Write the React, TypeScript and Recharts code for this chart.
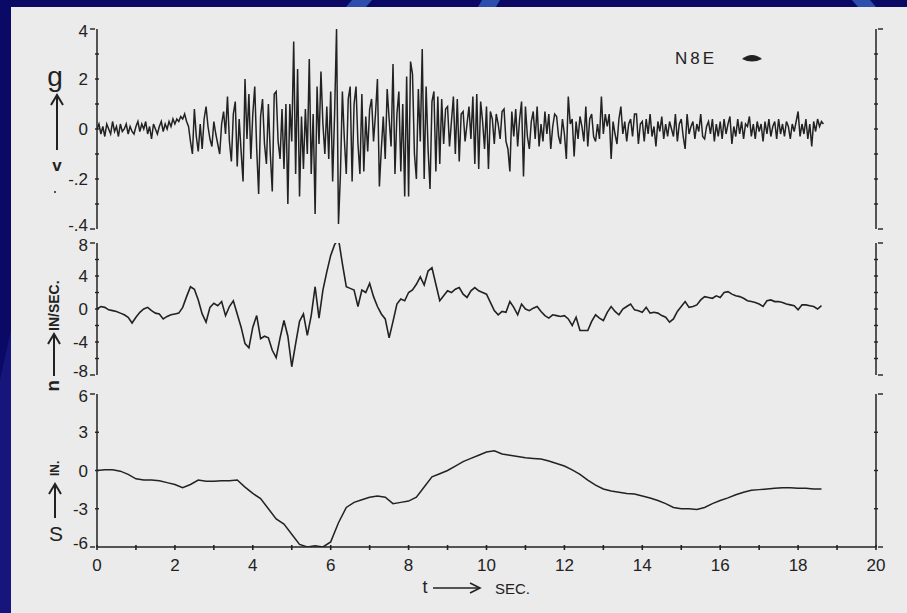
import React from "react";
import { LineChart, Line, XAxis, YAxis } from "recharts";

// ground acceleration (g), one reading every 0.05 s starting at t = 0
const accel0to2 = [
  0.0, 0.02, -0.02, 0.01, -0.03, 0.02, 0.0, -0.02, 0.03, -0.01,
  0.01, -0.03, 0.02, -0.01, 0.0, 0.02, -0.02, 0.01, -0.01, -0.02,
  0.01, 0.03, -0.01, 0.02, 0.0, 0.03, -0.02, 0.01, -0.04, 0.02,
  0.0, -0.02, 0.01, 0.03, -0.01, 0.02, 0.0, 0.03, 0.01, 0.04,
];
const accel2to4 = [
  0.02, 0.04, 0.03, 0.05, 0.04, 0.06, 0.03, 0.01, -0.05, -0.1,
  0.08, -0.03, -0.09, 0.02, -0.08, 0.04, 0.09, 0.01, -0.04, -0.07,
  0.03, -0.02, -0.06, -0.1, 0.02, 0.07, -0.02, 0.13, -0.05, -0.13,
  0.06, 0.11, -0.15, 0.04, -0.09, -0.21, 0.2, -0.04, 0.14, -0.12,
];
const accel4to6 = [
  0.06, 0.17, -0.08, -0.26, 0.05, 0.12, -0.06, -0.14, 0.1, -0.1,
  -0.25, 0.14, 0.15, -0.05, -0.12, 0.08, -0.16, 0.1, -0.3, 0.1,
  -0.05, 0.35, -0.18, 0.24, -0.27, 0.05, -0.16, 0.08, -0.1, 0.28,
  -0.18, 0.06, -0.34, 0.17, -0.06, 0.23, 0.02, -0.1, 0.09, -0.12,
];
const accel6to8 = [
  0.15, -0.21, 0.06, 0.4, -0.38, -0.18, 0.15, -0.04, -0.18, 0.12,
  0.17, -0.21, 0.1, 0.17, -0.06, -0.18, 0.14, -0.17, 0.05, -0.09,
  0.08, 0.12, -0.05, 0.06, 0.2, -0.23, -0.08, 0.05, -0.12, 0.16,
  0.04, -0.07, 0.26, -0.18, 0.06, 0.15, -0.17, 0.1, -0.27, 0.21,
];
const accel8to10 = [
  -0.27, 0.27, 0.22, -0.1, -0.2, 0.16, -0.05, 0.32, -0.2, 0.17,
  -0.08, -0.24, 0.11, 0.15, -0.17, 0.13, -0.14, 0.12, -0.06, 0.08,
  0.09, -0.07, 0.03, 0.13, -0.1, 0.12, -0.13, 0.06, 0.07, -0.05,
  0.02, 0.09, -0.04, 0.13, -0.14, 0.14, -0.16, 0.11, 0.03, -0.08,
];
const accel10to12 = [
  0.09, -0.16, 0.07, 0.04, -0.06, 0.06, 0.02, -0.04, 0.07, 0.08,
  -0.05, -0.08, -0.17, 0.07, -0.03, 0.08, -0.07, 0.04, 0.11, -0.19,
  0.09, -0.03, -0.08, 0.03, 0.07, -0.04, 0.09, -0.07, 0.02, -0.05,
  0.07, -0.02, 0.06, -0.08, 0.01, 0.06, 0.05, -0.03, -0.06, 0.04,
];
const accel12to14 = [
  -0.02, -0.12, 0.13, 0.02, 0.04, -0.11, 0.03, -0.04, 0.05, 0.01,
  -0.05, 0.09, -0.07, 0.04, 0.06, -0.03, -0.05, 0.02, -0.04, 0.13,
  -0.02, 0.06, 0.01, 0.06, -0.12, 0.03, -0.02, -0.06, 0.04, 0.09,
  -0.02, 0.03, -0.05, 0.02, 0.04, -0.03, 0.06, 0.06, -0.06, 0.02,
];
const accel14to16 = [
  0.03, -0.05, 0.04, -0.02, 0.06, -0.03, 0.01, -0.07, 0.03, -0.01,
  0.05, -0.04, 0.02, -0.03, 0.03, 0.0, -0.03, 0.06, -0.05, 0.02,
  0.04, -0.03, -0.08, 0.06, -0.02, 0.01, 0.03, -0.04, 0.02, -0.01,
  0.06, -0.03, -0.04, 0.01, 0.03, -0.02, 0.04, -0.05, 0.02, -0.03,
];
const accel16toEnd = [
  0.03, -0.04, 0.04, -0.02, 0.02, 0.05, -0.06, 0.01, -0.03, 0.04,
  -0.02, 0.03, -0.04, 0.02, 0.01, 0.05, -0.03, 0.02, -0.04, 0.03,
  -0.01, 0.02, -0.05, 0.03, -0.02, 0.04, -0.03, 0.01, 0.03, -0.04,
  0.04, -0.02, 0.02, -0.03, 0.03, 0.01, -0.04, 0.02, -0.01, 0.03,
  0.07, -0.03, 0.02, -0.02, 0.04, -0.04, 0.02, -0.07, 0.03, -0.01,
  0.04, 0.01, 0.03, 0.02,
];

// ground velocity (in/sec), one reading every 0.1 s
const vel0to5 = [
  0.0, 0.3, 0.2, -0.1, -0.2, -0.3, -0.5, -0.7, -1.0, -1.7,
  -1.0, -0.4, 0.0, 0.2, -0.2, -0.5, -0.6, -1.2, -0.9, -0.7,
  -0.6, -0.5, 0.2, 1.5, 2.7, 2.4, 1.1, -0.6, -1.6, 0.2,
  0.7, 0.4, 0.9, -0.8, 0.3, 1.0, -0.6, -2.2, -4.2, -4.7,
  -2.2, -0.8, -3.6, -3.3, -3.5, -5.0, -5.9, -3.5, -1.4, -3.3,
];
const vel5to10 = [
  -7.0, -4.2, -1.5, -0.6, -3.2, -0.8, 2.7, -1.1, 2.3, 4.5,
  6.5, 7.8, 8.5, 5.5, 2.7, 2.5, 2.3, 0.3, 2.3, 2.0,
  3.1, 1.5, 0.3, -0.6, -1.2, -3.5, -1.5, 0.6, 1.2, 1.0,
  2.0, 2.3, 3.0, 3.9, 2.9, 4.6, 5.0, 3.0, 1.0, 1.6,
  2.2, 2.0, 2.4, 2.6, 1.8, 1.4, 2.2, 2.6, 2.2, 2.0,
];
const vel10to15 = [
  1.8, 0.8, -0.2, -0.7, -0.3, -0.4, 0.9, 0.2, -0.7, 0.6,
  0.0, -0.2, 0.1, 0.3, -0.3, -0.8, -1.1, -0.7, -0.8, -0.9,
  -0.8, -1.2, -2.0, -1.0, -2.6, -2.6, -2.6, -1.5, -0.7, -1.1,
  -1.4, -0.4, 0.3, -0.3, -0.7, 0.0, 0.3, 0.6, -0.1, -0.2,
  -0.4, 0.2, -0.5, -0.4, -0.5, -0.8, -1.0, -1.6, -1.2, -0.3,
];
const vel15toEnd = [
  0.3, 0.9, 0.2, 0.3, 0.5, 1.1, 1.5, 1.4, 1.3, 1.6,
  1.4, 2.0, 2.1, 1.8, 1.6, 1.5, 1.3, 1.0, 0.9, 0.8,
  0.6, 0.3, 1.0, 1.1, 0.9, 0.9, 0.8, 0.6, 0.5, 0.4,
  -0.1, 0.5, 0.5, 0.4, 0.3, 0.0, 0.4,
];

// ground displacement (in), one reading every 0.2 s
const disp0to10 = [
  0.0, 0.05, 0.05, -0.05, -0.3, -0.65, -0.75, -0.75, -0.8, -0.95,
  -1.1, -1.35, -1.1, -0.75, -0.85, -0.85, -0.8, -0.8, -0.75, -1.3,
  -1.8, -2.2, -3.0, -3.8, -4.2, -5.0, -5.8, -6.0, -5.9, -6.0,
  -5.6, -4.1, -2.9, -2.5, -2.3, -2.1, -2.0, -2.1, -2.6, -2.5,
  -2.4, -2.1, -1.3, -0.5, -0.25, 0.0, 0.35, 0.7, 0.95, 1.2,
];
const disp10toEnd = [
  1.45, 1.55, 1.3, 1.2, 1.1, 1.0, 0.95, 0.9, 0.75, 0.55,
  0.35, 0.05, -0.3, -0.75, -1.15, -1.45, -1.6, -1.7, -1.8, -1.85,
  -2.0, -2.15, -2.35, -2.6, -2.9, -3.0, -3.0, -3.05, -2.9, -2.6,
  -2.35, -2.15, -1.9, -1.7, -1.55, -1.5, -1.45, -1.4, -1.35, -1.35,
  -1.4, -1.4, -1.45, -1.45,
];

const timeTicks = [0, 1, 2, 3, 4, 5, 6, 7, 8, 9, 10, 11, 12, 13, 14, 15, 16, 17, 18, 19, 20];
const timeTickText = ["0", "", "2", "", "4", "", "6", "", "8", "", "10", "", "12", "", "14", "", "16", "", "18", "", "20"];

const accelTicks = [0.4, 0.3, 0.2, 0.1, 0, -0.1, -0.2, -0.3, -0.4];
const accelTickText = ["4", "", "2", "", "0", "", "-.2", "", "-.4"];
const velTicks = [8, 6, 4, 2, 0, -2, -4, -6, -8];
const velTickText = ["8", "", "4", "", "0", "", "-4", "", "-8"];
const dispTicks = [6, 3, 0, -3, -6];
const dispTickText = ["6", "3", "0", "-3", "-6"];

const accelData = [
  ...accel0to2, ...accel2to4, ...accel4to6, ...accel6to8, ...accel8to10,
  ...accel10to12, ...accel12to14, ...accel14to16, ...accel16toEnd,
].map((a, i) => ({ t: Math.round(i * 5) / 100, a }));
const velData = [...vel0to5, ...vel5to10, ...vel10to15, ...vel15toEnd].map((v, i) => ({ t: i / 10, v }));
const dispData = [...disp0to10, ...disp10toEnd].map((s, i) => ({ t: (i * 2) / 10, s }));

const INK = "#222222";
const FONT = "'Liberation Sans', Arial, sans-serif";

function leftTick(values: number[], texts: string[]) {
  const first = values[0];
  const last = values[values.length - 1];
  return (p: any) => {
    const v = p.payload.value;
    const text = texts[values.indexOf(v)] || "";
    const end = v === first || v === last;
    // end labels sit a little inside the panel so neighbouring panels don't collide
    const shift = v === first ? 2 : v === last ? -4 : 0;
    return (
      <g>
        <line x1={end ? p.x - 5 : p.x} x2={end ? p.x : p.x + 4} y1={p.y} y2={p.y} stroke={INK} strokeWidth={1.4} />
        {text && (
          <text x={p.x - 7} y={p.y + shift} dy="0.36em" textAnchor="end" fontSize={17} fill={INK} fontFamily={FONT}>
            {text}
          </text>
        )}
      </g>
    );
  };
}

function rightTick(values: number[]) {
  const first = values[0];
  const last = values[values.length - 1];
  return (p: any) => {
    const v = p.payload.value;
    const end = v === first || v === last;
    return <line x1={end ? p.x + 5 : p.x} x2={end ? p.x : p.x - 4} y1={p.y} y2={p.y} stroke={INK} strokeWidth={1.4} />;
  };
}

const topTick = (p: any) => <line x1={p.x} x2={p.x} y1={p.y - 2} y2={p.y + 3} stroke={INK} strokeWidth={1.6} />;

const bottomTick = (p: any) => {
  const text = timeTickText[timeTicks.indexOf(p.payload.value)] || "";
  return (
    <g>
      <line x1={p.x} x2={p.x} y1={p.y - 4} y2={p.y + 1} stroke={INK} strokeWidth={1.6} />
      {text && (
        <text x={p.x} y={p.y + 16} dy="0.36em" textAnchor="middle" fontSize={17} fill={INK} fontFamily={FONT}>
          {text}
        </text>
      )}
    </g>
  );
};

const axisLine = { stroke: INK, strokeWidth: 1.5 };

// each panel is its own chart; the boxes overlap a little so end labels are not clipped
function Panel(props: {
  top: number;
  height: number;
  marginTop: number;
  marginBottom: number;
  data: any[];
  dataKey: string;
  domain: [number, number];
  ticks: number[];
  tickText: string[];
  strokeWidth: number;
  xMode: "top" | "bottom" | "none";
}) {
  const { top, height, marginTop, marginBottom, data, dataKey, domain, ticks, tickText, strokeWidth, xMode } = props;
  return (
    <div style={{ position: "absolute", left: 0, top, width: 907, height }}>
      <LineChart width={907} height={height} data={data} margin={{ top: marginTop, right: 0, bottom: marginBottom, left: 0 }}>
        <XAxis
          xAxisId="x"
          type="number"
          dataKey="t"
          domain={[0, 20]}
          allowDataOverflow
          ticks={timeTicks}
          interval={0}
          hide={xMode === "none"}
          orientation={xMode === "top" ? "top" : "bottom"}
          height={xMode === "bottom" ? 66 : 0}
          tickSize={0}
          tickLine={false}
          axisLine={axisLine}
          tick={xMode === "top" ? topTick : bottomTick}
        />
        <YAxis
          yAxisId="l"
          type="number"
          domain={domain}
          allowDataOverflow
          width={97}
          ticks={ticks}
          interval={0}
          tickSize={0}
          tickLine={false}
          axisLine={axisLine}
          tick={leftTick(ticks, tickText)}
        />
        <YAxis
          yAxisId="r"
          orientation="right"
          type="number"
          domain={domain}
          allowDataOverflow
          width={31}
          ticks={ticks}
          interval={0}
          tickSize={0}
          tickLine={false}
          axisLine={axisLine}
          tick={rightTick(ticks)}
        />
        <Line
          xAxisId="x"
          yAxisId="l"
          type="linear"
          dataKey={dataKey}
          stroke={INK}
          strokeWidth={strokeWidth}
          dot={false}
          isAnimationActive={false}
        />
      </LineChart>
    </div>
  );
}

export default function App() {
  return (
    <div style={{ position: "absolute", left: 0, top: 0, width: 907, height: 613, background: "#0a0a66", overflow: "hidden" }}>
      <svg width={907} height={613} style={{ position: "absolute", left: 0, top: 0 }}>
        <polygon points="0,380 11,330 11,613 0,613" fill="#15157c" />
        <polygon points="352,0 372,0 366,7 346,7" fill="#2c4fae" />
        <polygon points="482,0 500,0 496,7 478,7" fill="#2c4fae" />
        <polygon points="852,0 870,0 876,7 858,7" fill="#2c4fae" />
        <rect x={11} y={7} width={896} height={606} fill="#ebebeb" />
      </svg>

      <Panel top={0} height={246} marginTop={29} marginBottom={17} data={accelData} dataKey="a" domain={[-0.4, 0.4]}
        ticks={accelTicks} tickText={accelTickText} strokeWidth={1.5} xMode="top" />
      <Panel top={226} height={162} marginTop={17} marginBottom={13} data={velData} dataKey="v" domain={[-8, 8]}
        ticks={velTicks} tickText={velTickText} strokeWidth={1.6} xMode="none" />
      <Panel top={380} height={233} marginTop={14} marginBottom={0} data={dispData} dataKey="s" domain={[-6, 6]}
        ticks={dispTicks} tickText={dispTickText} strokeWidth={1.5} xMode="bottom" />

      <svg width={907} height={613} style={{ position: "absolute", left: 0, top: 0, pointerEvents: "none" }} fontFamily={FONT} fill={INK}>
        {/* acceleration label */}
        <text x={55} y={86} fontSize={28} textAnchor="middle">g</text>
        <line x1={57} y1={150} x2={57} y2={97} stroke={INK} strokeWidth={2} />
        <polyline points="51,105 57,95 63,105" fill="none" stroke={INK} strokeWidth={2} />
        <text x={57} y={171} fontSize={17} fontWeight="bold" textAnchor="middle">v</text>
        <circle cx={55} cy={192} r={1} />

        {/* velocity label */}
        <text transform="translate(49,380) rotate(90)" fontSize={19} fontWeight="bold">u</text>
        <line x1={54} y1={376} x2={54} y2={336} stroke={INK} strokeWidth={2} />
        <polyline points="48,344 54,334 60,344" fill="none" stroke={INK} strokeWidth={2} />
        <text transform="translate(59,331) rotate(-90)" fontSize={14} fontWeight="bold">IN/SEC.</text>

        {/* displacement label */}
        <text transform="translate(59,476) rotate(-90)" fontSize={12} fontWeight="bold">IN.</text>
        <line x1={55} y1={518} x2={55} y2={486} stroke={INK} strokeWidth={2} />
        <polyline points="49,494 55,484 61,494" fill="none" stroke={INK} strokeWidth={2} />
        <text x={56} y={541} fontSize={21} textAnchor="middle">S</text>

        {/* record name */}
        <text x={675} y={64} fontSize={17} letterSpacing={3}>N8E</text>
        <path d="M742,59 Q752,51 762,59 Q752,64 742,59 Z" />

        {/* time axis title */}
        <text x={425} y={593} fontSize={18} textAnchor="middle">t</text>
        <line x1={433} y1={588} x2={479} y2={588} stroke={INK} strokeWidth={1.6} />
        <polyline points="470,583 480,588 470,593" fill="none" stroke={INK} strokeWidth={1.6} />
        <text x={495} y={594} fontSize={15}>SEC.</text>
      </svg>
    </div>
  );
}
